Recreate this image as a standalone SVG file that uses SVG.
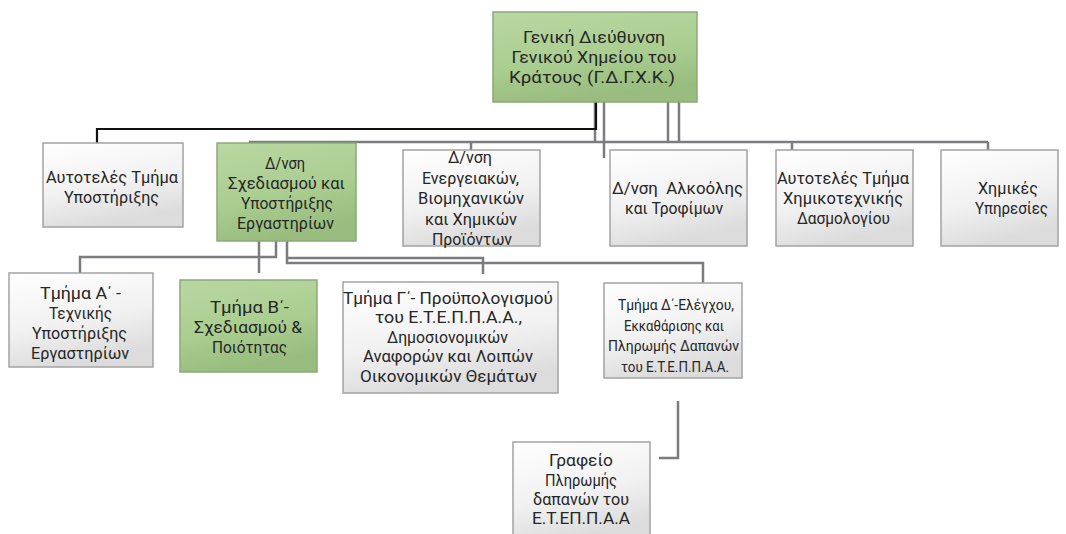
<svg xmlns="http://www.w3.org/2000/svg" width="1066" height="534" viewBox="0 0 1066 534">
<defs>
<linearGradient id="gw" x1="0" y1="0" x2="0.3" y2="1">
<stop offset="0" stop-color="#ffffff"/>
<stop offset="0.6" stop-color="#f1f1f1"/>
<stop offset="1" stop-color="#dcdcdc"/>
</linearGradient>
<linearGradient id="gg" x1="0" y1="0" x2="0.3" y2="1">
<stop offset="0" stop-color="#b9d8a2"/>
<stop offset="0.6" stop-color="#aacd90"/>
<stop offset="1" stop-color="#98bd7e"/>
</linearGradient>
<style>
.w{fill:url(#gw);stroke:#a3a3a3;stroke-width:1.5}
.g{fill:url(#gg);stroke:#8da77b;stroke-width:1.5}
.t{font-family:Roboto,"Noto Sans",sans-serif;font-size:16px;fill:#262626;text-anchor:middle}
.s{font-size:15px}
.c{fill:none;stroke:#7b7b80;stroke-width:2.5}
.k{fill:none;stroke:#111;stroke-width:2.2}
</style>
</defs>
<rect width="1066" height="534" fill="#ffffff"/>
<g id="connectors">
<path class="c" d="M595,102 V142 M604,102 V158 M668,102 V142 M679,102 V142 M249,142 H988 M471,142 V150 M792,142 V150 M988,142 V150"/>
<path class="k" d="M596,102 V129 H97 V143"/>
<path class="c" d="M259,241 V273 M276,241 V257 H80 V273 M287,241 V263 H703 V283 M287,258 H483 V274"/>
<path class="c" d="M678,401 V458 H659"/>
</g>
<g id="n0"><rect class="g" x="493" y="12" width="204" height="90"/>
<text class="t" x="594" y="43" textLength="142" lengthAdjust="spacingAndGlyphs">Γενική Διεύθυνση</text><text class="t" x="594" y="63" textLength="165" lengthAdjust="spacingAndGlyphs">Γενικού Χημείου του</text><text class="t" x="592" y="83" textLength="166" lengthAdjust="spacingAndGlyphs">Κράτους (Γ.Δ.Γ.Χ.Κ.)</text></g>
<g id="n1"><rect class="w" x="43" y="143" width="140" height="84"/>
<text class="t" x="112" y="183" textLength="132" lengthAdjust="spacingAndGlyphs">Αυτοτελές Τμήμα</text><text class="t" x="111.5" y="203" textLength="95" lengthAdjust="spacingAndGlyphs">Υποστήριξης</text></g>
<g id="n2"><rect class="g" x="217" y="143" width="139" height="98"/>
<text class="t" x="285" y="169" textLength="40" lengthAdjust="spacingAndGlyphs">Δ/νση</text><text class="t" x="286.5" y="189" textLength="117" lengthAdjust="spacingAndGlyphs">Σχεδιασμού και</text><text class="t" x="287" y="209" textLength="92" lengthAdjust="spacingAndGlyphs">Υποστήριξης</text><text class="t" x="285.5" y="229" textLength="97" lengthAdjust="spacingAndGlyphs">Εργαστηρίων</text></g>
<g id="n3"><rect class="w" x="403" y="150" width="137" height="96"/>
<text class="t" x="470" y="163" textLength="44" lengthAdjust="spacingAndGlyphs">Δ/νση</text><text class="t" x="470.5" y="183.5" textLength="97" lengthAdjust="spacingAndGlyphs">Ενεργειακών,</text><text class="t" x="471" y="204" textLength="106" lengthAdjust="spacingAndGlyphs">Βιομηχανικών</text><text class="t" x="471" y="224.5" textLength="92" lengthAdjust="spacingAndGlyphs">και Χημικών</text><text class="t" x="472" y="245" textLength="80" lengthAdjust="spacingAndGlyphs">Προϊόντων</text></g>
<g id="n4"><rect class="w" x="610" y="150" width="137" height="96"/>
<text class="t" x="677.5" y="194" xml:space="preserve" textLength="131" lengthAdjust="spacingAndGlyphs">Δ/νση  Αλκοόλης</text><text class="t" x="674" y="214" textLength="98" lengthAdjust="spacingAndGlyphs">και Τροφίμων</text></g>
<g id="n5"><rect class="w" x="776" y="150" width="137" height="96"/>
<text class="t" x="843" y="184" textLength="132" lengthAdjust="spacingAndGlyphs">Αυτοτελές Τμήμα</text><text class="t" x="843" y="204" textLength="120" lengthAdjust="spacingAndGlyphs">Χημικοτεχνικής</text><text class="t" x="843.5" y="224" textLength="93" lengthAdjust="spacingAndGlyphs">Δασμολογίου</text></g>
<g id="n6"><rect class="w" x="941" y="150" width="117" height="96"/>
<text class="t" x="1008" y="194" textLength="60" lengthAdjust="spacingAndGlyphs">Χημικές</text><text class="t" x="1011.5" y="214" textLength="73" lengthAdjust="spacingAndGlyphs">Υπηρεσίες</text></g>
<g id="n7"><rect class="w" x="9" y="273" width="144" height="94"/>
<text class="t" x="80.5" y="299" textLength="81" lengthAdjust="spacingAndGlyphs">Τμήμα Α΄ -</text><text class="t" x="80.5" y="319" textLength="63" lengthAdjust="spacingAndGlyphs">Τεχνικής</text><text class="t" x="79.5" y="339" textLength="95" lengthAdjust="spacingAndGlyphs">Υποστήριξης</text><text class="t" x="80" y="359" textLength="98" lengthAdjust="spacingAndGlyphs">Εργαστηρίων</text></g>
<g id="n8"><rect class="g" x="180" y="280" width="137" height="92"/>
<text class="t" x="249.5" y="313" textLength="79" lengthAdjust="spacingAndGlyphs">Τμήμα Β΄-</text><text class="t" x="248" y="333" textLength="108" lengthAdjust="spacingAndGlyphs">Σχεδιασμού &amp;</text><text class="t" x="249.5" y="353" textLength="75" lengthAdjust="spacingAndGlyphs">Ποιότητας</text></g>
<g id="n9"><rect class="w" x="343" y="282" width="215" height="111"/>
<text class="t" x="448" y="303.5" textLength="210" lengthAdjust="spacingAndGlyphs">Τμήμα Γ΄- Προϋπολογισμού</text><text class="t" x="448.5" y="323" textLength="147" lengthAdjust="spacingAndGlyphs">του Ε.Τ.Ε.Π.Π.Α.Α.,</text><text class="t" x="447.5" y="342.5" textLength="121" lengthAdjust="spacingAndGlyphs">Δημοσιονομικών</text><text class="t" x="448" y="362" textLength="170" lengthAdjust="spacingAndGlyphs">Αναφορών και Λοιπών</text><text class="t" x="448.5" y="381.5" textLength="177" lengthAdjust="spacingAndGlyphs">Οικονομικών Θεμάτων</text></g>
<g id="n10"><rect class="w" x="604" y="283" width="138" height="95"/>
<text class="t s" x="676" y="310" textLength="116" lengthAdjust="spacingAndGlyphs">Τμήμα Δ΄-Ελέγχου,</text><text class="t s" x="674" y="330.5" textLength="100" lengthAdjust="spacingAndGlyphs">Εκκαθάρισης και</text><text class="t s" x="673.5" y="351" textLength="131" lengthAdjust="spacingAndGlyphs">Πληρωμής Δαπανών</text><text class="t s" x="675" y="371.5" textLength="108" lengthAdjust="spacingAndGlyphs">του Ε.Τ.Ε.Π.Π.Α.Α.</text></g>
<g id="n11"><rect class="w" x="513" y="442" width="137" height="100"/>
<text class="t" x="581" y="466" textLength="64" lengthAdjust="spacingAndGlyphs">Γραφείο</text><text class="t" x="581" y="486" textLength="72" lengthAdjust="spacingAndGlyphs">Πληρωμής</text><text class="t" x="581" y="505" textLength="96" lengthAdjust="spacingAndGlyphs">δαπανών του</text><text class="t" x="581" y="524" textLength="98" lengthAdjust="spacingAndGlyphs">Ε.Τ.ΕΠ.Π.Α.Α</text></g>
</svg>
